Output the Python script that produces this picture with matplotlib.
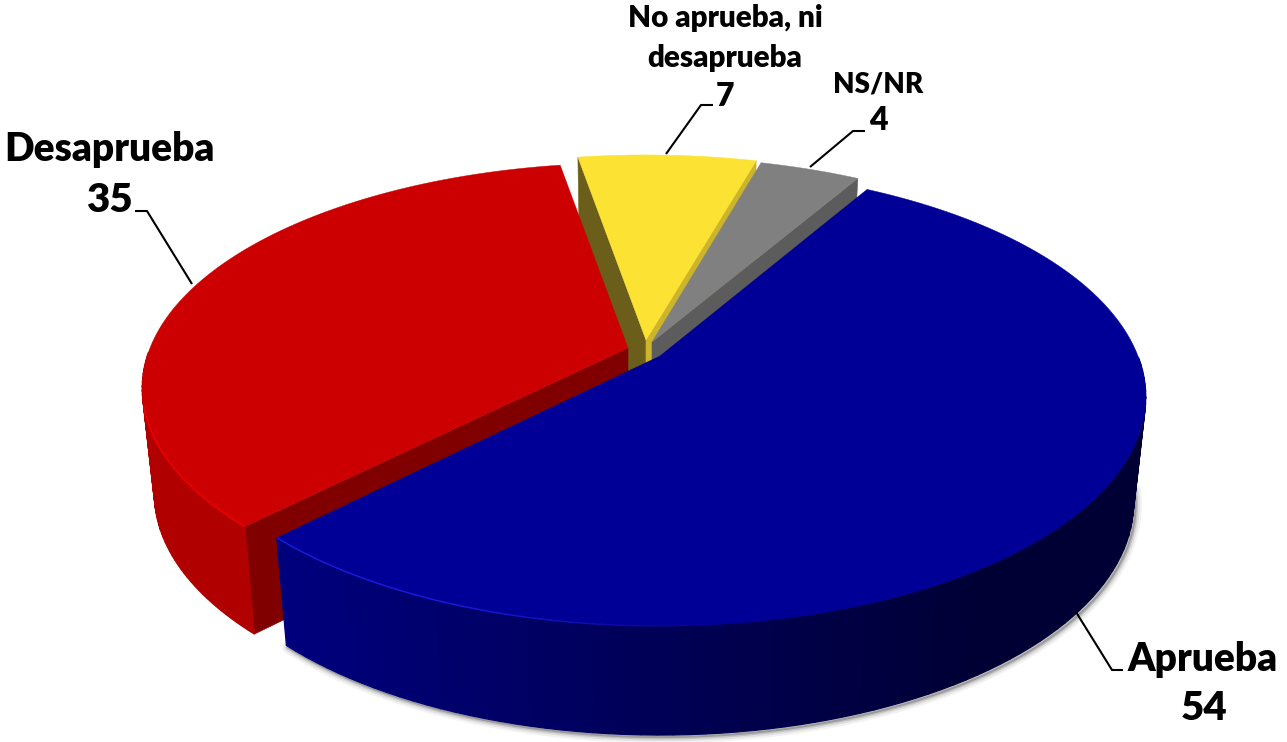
import numpy as np
import matplotlib
matplotlib.use("Agg")
import matplotlib.pyplot as plt
from matplotlib.patches import Polygon

plt.rcParams['font.family'] = ['Lato', 'DejaVu Sans']

# ---------------------------------------------------------------------------
# Data
# ---------------------------------------------------------------------------
categories = ['Aprueba', 'Desaprueba', 'No aprueba, ni\ndesaprueba', 'NS/NR']
values = [54, 35, 7, 4]

# ---------------------------------------------------------------------------
# Look of the fake 3D pie (pixel space)
# ---------------------------------------------------------------------------
W, H = 1287, 742
START_DEG = 60.0   # slices run clockwise from here
K = 0.178          # perspective: back of the disc is smaller
DEPTH = 105.0
SHRINK = 0.975     # lower face is a bit narrower

centers = [(660, 356), (628, 348), (646, 340), (652, 342)]
radius_x = [478, 478, 480, 475]
radius_y = [222, 218, 218, 218]
top_colors = ['#000096', '#CC0000', '#FCE232', '#808080']
rim_colors = ['#1A1AD8', '#F00000', None, None]
wall_left = [(0, 0, 128), (176, 0, 0), (107, 94, 26), (92, 92, 92)]
wall_right = [(0, 0, 52), (162, 0, 0), (107, 94, 26), (92, 92, 92)]
# radial faces: (which end of the slice, colour)
faces = [[], [('start', '#800000')],
         [('start', '#6B5E1A'), ('end', '#CDB52B')],
         [('end', '#5C5C5C')]]
draw_order = [2, 3, 1, 0]


def top_xy(i, theta):
    cx, cy = centers[i]
    denom = 1 + K * np.sin(theta)
    x = cx + radius_x[i] * np.cos(theta) / denom
    y = cy - radius_y[i] * np.sin(theta) / denom
    return x, y


def low_xy(i, x, y):
    cx = centers[i][0]
    return cx + (x - cx) * SHRINK, y + DEPTH + 4 * (y - centers[i][1]) / 270


# slice limits come from the values
spans = np.array(values) / sum(values) * 2 * np.pi
ends = np.radians(START_DEG) - np.cumsum(spans)
starts = ends + spans

fig = plt.figure(figsize=(W / 100, H / 100), dpi=100)
ax = fig.add_axes([0, 0, 1, 1])
ax.set_xlim(0, W)
ax.set_ylim(H, 0)
ax.axis('off')

for i in draw_order:
    th = np.linspace(starts[i], ends[i], 120)
    x, y = top_xy(i, th)
    lx, ly = low_xy(i, x, y)
    cx, cy = centers[i]

    # soft shadow under the big slice
    if i == 0:
        front = np.sin(th) < -0.1
        for lw, a in zip([9, 6, 3.5, 1.5], [0.05, 0.08, 0.12, 0.2]):
            ax.plot(lx[front] + 2, ly[front] + 2, color='k', lw=lw, alpha=a,
                    solid_capstyle='round', zorder=1)

    # radial faces
    z = 2 + draw_order.index(i) * 5
    for end, col in faces[i]:
        t = starts[i] if end == 'start' else ends[i]
        rx, ry = top_xy(i, t)
        qx, qy = low_xy(i, rx, ry)
        ax.add_patch(Polygon([(cx, cy), (rx, ry), (qx, qy), (cx, cy + DEPTH)],
                             closed=True, fc=col, ec=col, lw=0.4, zorder=z))

    # outer wall, split up so the shade can run across it
    lo, hi = np.array(wall_left[i]) / 255, np.array(wall_right[i]) / 255
    for j in range(len(th) - 1):
        if np.sin(th[j]) > -0.02 and np.sin(th[j + 1]) > -0.02:
            continue
        f = np.clip((x[j] - 260) / (1000 - 260), 0, 1)
        col = lo + (hi - lo) * f
        ax.add_patch(Polygon([(x[j], y[j]), (x[j + 1], y[j + 1]),
                              (lx[j + 1], ly[j + 1]), (lx[j], ly[j])],
                             closed=True, fc=col, ec=col, lw=0.9, zorder=z + 1))

    # top surface
    ax.add_patch(Polygon(np.r_[[[cx, cy]], np.c_[x, y]], closed=True,
                         fc=top_colors[i], ec=top_colors[i], lw=0.3, zorder=z + 2))

    # lighter edge along the front rim, fading out to the right
    if rim_colors[i]:
        front = np.where((np.sin(th) < -0.25) & (x < 720))[0]
        for j in front[:-1]:
            ax.plot(x[j:j + 2], y[j:j + 2], color=rim_colors[i], lw=1.1,
                    alpha=float(np.clip((720 - x[j]) / 250, 0, 1)),
                    solid_capstyle='butt', zorder=z + 3)

# ---------------------------------------------------------------------------
# Labels and leader lines
# ---------------------------------------------------------------------------
label_pos = [(1203, 659), (109, 149), (725, 38), (878, 84)]
value_pos = [(1204, 709), (109, 200), (725, 96), (878, 120)]
label_size = [28, 28, 21.3, 20]
value_size = [29, 29, 23, 23]
leaders = [
    [(1076, 612), (1112, 670), (1123, 670)],
    [(192, 284), (147, 211), (135, 211)],
    [(666, 154), (701, 105), (713, 105)],
    [(810, 167), (853, 131), (865, 131)],
]

for i in range(len(values)):
    ax.text(*label_pos[i], categories[i], ha='center', va='center',
            fontsize=label_size[i], fontweight='heavy', color='black',
            linespacing=1.5, zorder=60)
    ax.text(*value_pos[i], str(values[i]), ha='center', va='center',
            fontsize=value_size[i], fontweight='heavy', color='black', zorder=60)
    xs, ys = zip(*leaders[i])
    ax.plot(xs, ys, color='black', lw=1.5, zorder=59,
            solid_joinstyle='round', solid_capstyle='butt')

fig.savefig('out.png', dpi=100)
plt.close(fig)
